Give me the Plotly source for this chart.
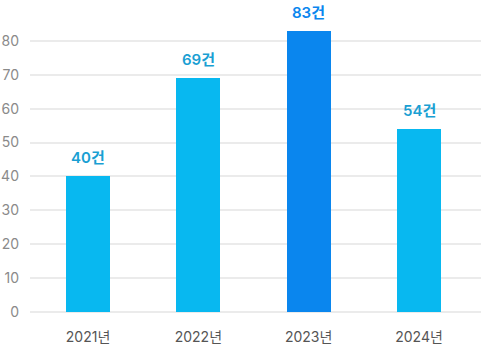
import plotly.graph_objects as go

years = ["2021년", "2022년", "2023년", "2024년"]
counts = [40, 69, 83, 54]
labels = ["40건", "69건", "83건", "54건"]
bar_colors = ["#08B8F0", "#08B8F0", "#0A86EE", "#08B8F0"]
label_colors = ["#1A9FD3", "#1A9FD3", "#0A86EE", "#1A9FD3"]
y_ticks = [0, 10, 20, 30, 40, 50, 60, 70, 80]

font_family = "Inter, Noto Sans CJK KR, sans-serif"
positions = list(range(len(years)))

fig = go.Figure(
    go.Bar(
        x=positions,
        y=counts,
        width=0.4,
        marker=dict(color=bar_colors, line=dict(width=0)),
        hoverinfo="skip",
    )
)

for xi, val, txt, col in zip(positions, counts, labels, label_colors):
    fig.add_annotation(
        x=xi, y=val, text=txt, showarrow=False,
        yanchor="bottom", yshift=7,
        font=dict(family=font_family, size=15, color=col, weight=600),
    )

fig.update_layout(
    width=481, height=348,
    margin=dict(l=30, r=0, t=10, b=35),
    paper_bgcolor="white", plot_bgcolor="white",
    showlegend=False,
    bargap=0,
    font=dict(family=font_family),
)
fig.update_xaxes(
    range=[-0.526, 3.562],
    tickmode="array", tickvals=positions, ticktext=years,
    showgrid=False, zeroline=False, showline=False, ticks="",
    ticklabelstandoff=14,
    tickfont=dict(size=14, color="#555555"),
    fixedrange=True,
)
fig.update_yaxes(
    range=[-0.3, 89.1],
    tickmode="array", tickvals=y_ticks,
    showgrid=True, gridcolor="#EBEBEB", gridwidth=2,
    zeroline=False, showline=False, ticks="",
    ticklabelstandoff=10,
    tickfont=dict(size=14, color="#8A8A8A"),
    fixedrange=True,
)

fig.write_html("out.html")
